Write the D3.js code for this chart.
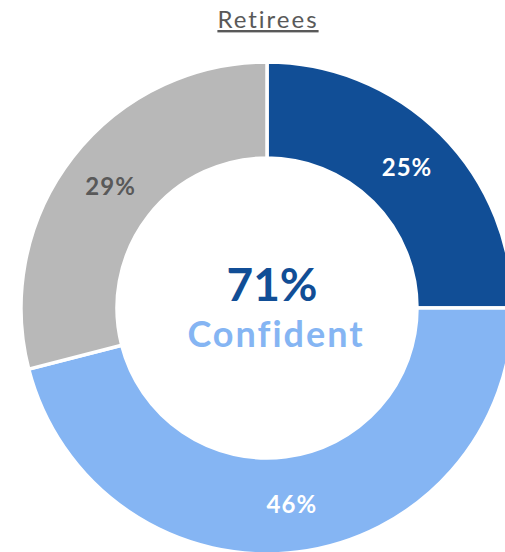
<!DOCTYPE html>
<html>
<head>
<meta charset="utf-8">
<script src="https://cdn.jsdelivr.net/npm/d3@7"></script>
<style>
  html, body { margin: 0; padding: 0; background: #fff; }
  svg { display: block; }
  text { font-family: "Century Gothic", "Lato", "DejaVu Sans", sans-serif; }
</style>
</head>
<body>
<svg id="chart" width="505" height="552"></svg>
<script>
// Retiree confidence breakdown
const categories = ["Very confident", "Somewhat confident", "Not confident"];
const values = [25, 46, 29];
const colors = ["#114E96", "#85B5F3", "#B8B8B8"];
const labelColors = ["#ffffff", "#ffffff", "#595959"];
const title = "Retirees";
const centerValue = "71%";
const centerLabel = "Confident";

const svg = d3.select("#chart");
const cx = 267, cy = 308;
const outerR = 246, innerR = 150;

// Title with underline
svg.append("text")
  .attr("x", cx + 1).attr("y", 28)
  .attr("text-anchor", "middle")
  .attr("font-size", 24)
  .attr("letter-spacing", 2)
  .attr("fill", "#595959")
  .attr("text-decoration", "underline")
  .text(title);

const pie = d3.pie().sort(null).value(d => d);
const arcs = pie(values);
const arc = d3.arc().innerRadius(innerR).outerRadius(outerR);
const labelArc = d3.arc().innerRadius((innerR + outerR) / 2).outerRadius((innerR + outerR) / 2);

const g = svg.append("g").attr("transform", `translate(${cx},${cy})`);

g.selectAll("path.slice")
  .data(arcs)
  .join("path")
  .attr("class", "slice")
  .attr("d", arc)
  .attr("fill", (d, i) => colors[i])
  .attr("stroke", "#ffffff")
  .attr("stroke-width", 3.5);

g.selectAll("text.pct")
  .data(arcs)
  .join("text")
  .attr("class", "pct")
  .attr("transform", d => `translate(${labelArc.centroid(d)})`)
  .attr("text-anchor", "middle")
  .attr("dy", "0.35em")
  .attr("font-size", 24)
  .attr("letter-spacing", 1)
  .attr("font-weight", "bold")
  .attr("fill", (d, i) => labelColors[i])
  .text(d => d.data + "%");

// Center summary
g.append("text")
  .attr("x", 5).attr("y", -7)
  .attr("text-anchor", "middle")
  .attr("font-size", 46)
  .attr("font-weight", "bold")
  .attr("fill", "#114E96")
  .text(centerValue);

g.append("text")
  .attr("x", 9).attr("y", 39)
  .attr("text-anchor", "middle")
  .attr("font-size", 36)
  .attr("letter-spacing", 2)
  .attr("font-weight", "bold")
  .attr("fill", "#85B5F3")
  .text(centerLabel);
</script>
</body>
</html>
